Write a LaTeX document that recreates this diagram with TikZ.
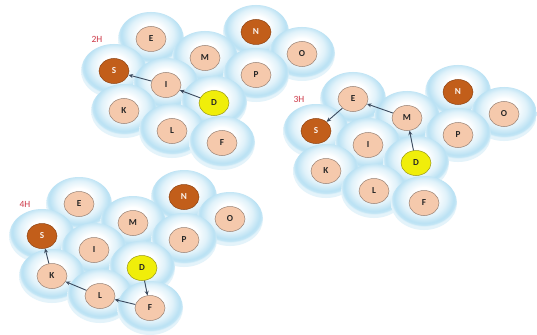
\documentclass[tikz,border=0pt]{standalone}
\usepackage{fontspec}
\setmainfont{Carlito}
\usetikzlibrary{shapes.geometric,arrows.meta}
\definecolor{cellblue}{RGB}{178,222,242}
\definecolor{peach}{RGB}{245,201,172}
\definecolor{peachline}{RGB}{150,128,115}
\definecolor{rust}{RGB}{194,94,26}
\definecolor{rustline}{RGB}{140,66,18}
\definecolor{yel}{RGB}{240,238,10}
\definecolor{yelline}{RGB}{150,150,20}
\definecolor{lblred}{RGB}{205,55,70}
\definecolor{arrowc}{RGB}{60,75,95}
\pgfdeclareradialshading{cellshade}{\pgfpoint{0bp}{7bp}}{color(0bp)=(white); color(9bp)=(white); color(17bp)=(cellblue!40!white); color(22.5bp)=(cellblue!90!white); color(24.2bp)=(cellblue!75!white); color(25bp)=(cellblue!35!white); color(50bp)=(cellblue!35!white)}
\tikzset{
  cell/.style={ellipse, minimum width=66pt, minimum height=54pt, inner sep=0pt, shade, shading=cellshade},
  ball/.style={ellipse, minimum width=30pt, minimum height=25pt, inner sep=0pt, fill=peach, draw=peachline, line width=0.5pt, font=\fontsize{9.2}{10}\selectfont\bfseries, text=black!85},
  rustball/.style={ball, fill=rust, draw=rustline, text=white!92!rust},
  yelball/.style={ball, fill=yel, draw=yelline},
  lbl/.style={font=\fontsize{9.5}{10}\selectfont, text=lblred},
  arr/.style={draw=arrowc, line width=0.9pt, -{Stealth[length=4.5pt,width=4pt]}}
}
\newcommand\hexgrp[4]{%
  \begin{scope}[shift={(#2,#3)}]
    \node[lbl] (#1lab) at (-54,0) {#4};
    \foreach \n/\px/\py in {N/105/-7, E/0/0, O/151/15, M/54/19, S/-37/32, P/105/36, I/15/46, D/63/64, K/-27/72, L/21/92, F/71/104}
      \node[cell] (#1c\n) at (\px,\py) {};
    \node[ball] (#1E) at (0,0) {E};
    \node[ball] (#1M) at (54,19) {M};
    \node[rustball] (#1N) at (105,-7) {N};
    \node[ball] (#1P) at (105,36) {P};
    \node[ball] (#1O) at (151,15) {O};
    \node[rustball] (#1S) at (-37,32) {S};
    \node[ball] (#1I) at (15,46) {I};
    \node[yelball] (#1D) at (63,64) {D};
    \node[ball] (#1K) at (-27,72) {K};
    \node[ball] (#1L) at (21,92) {L};
    \node[ball] (#1F) at (71,104) {F};
  \end{scope}}
\begin{document}
\begin{tikzpicture}[x=1pt,y=-1pt]
  \useasboundingbox[fill=white] (0,0) rectangle (537,334);
  \hexgrp{a}{151}{39}{2H}
  \hexgrp{b}{353}{99}{3H}
  \hexgrp{c}{79}{204}{4H}
  \draw[arr] (aD) -- (aI);
  \draw[arr] (aI) -- (aS);
  \draw[arr] (bD) -- (bM);
  \draw[arr] (bM) -- (bE);
  \draw[arr] (bE) -- (bS);
  \draw[arr] (cD) -- (cF);
  \draw[arr] (cF) -- (cL);
  \draw[arr] (cL) -- (cK);
  \draw[arr] (cK) -- (cS);
\end{tikzpicture}
\end{document}
